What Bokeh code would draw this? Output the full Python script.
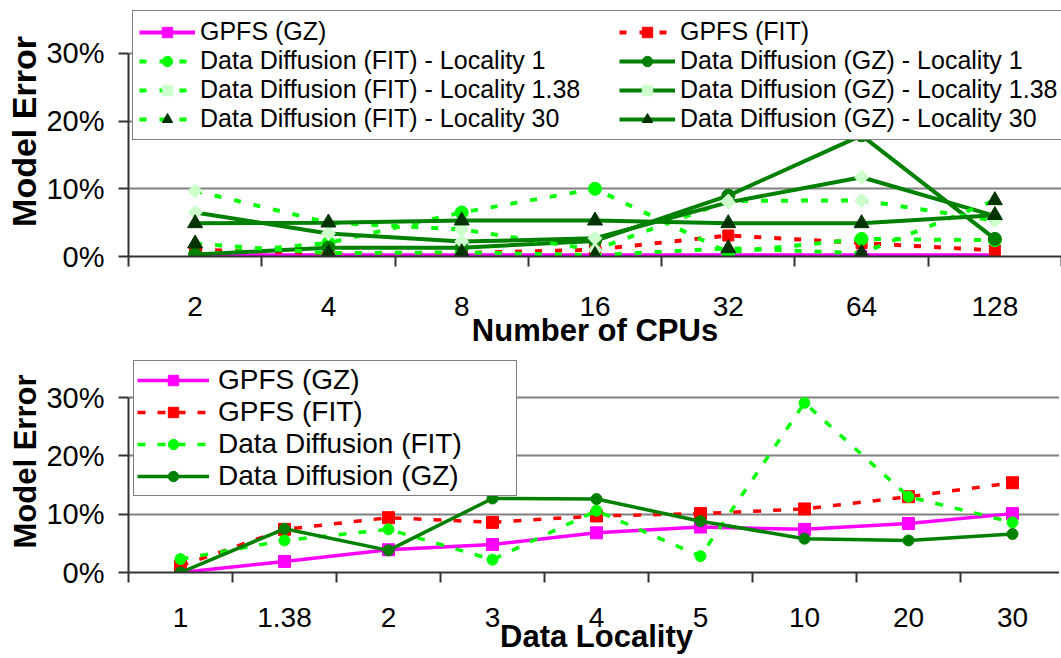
import math
from bokeh.plotting import figure
from bokeh.models import (FactorRange, Range1d, LinearAxis, FixedTicker,
                          PrintfTickFormatter, Legend, LegendItem,
                          CustomLabelingPolicy)
from bokeh.layouts import column
from bokeh.embed import file_html
from bokeh.resources import INLINE

# ---------------- data ----------------
cpus = ["2", "4", "8", "16", "32", "64", "128"]
gpfs_gz_cpu = [0.2, 0.2, 0.2, 0.2, 0.2, 0.2, 0.2]
gpfs_fit_cpu = [1.0, 0.5, 0.5, 1.0, 3.1, 2.0, 0.9]
dd_fit_l1 = [0.2, 2.0, 6.5, 10.0, 0.6, 2.6, 2.4]
dd_gz_l1 = [0.3, 1.3, 1.3, 2.3, 9.0, 17.9, 2.6]
dd_fit_l138 = [9.7, 5.0, 4.0, 1.0, 8.2, 8.3, 5.3]
dd_gz_l138 = [6.5, 3.4, 2.2, 2.7, 8.0, 11.7, 6.0]
dd_fit_l30 = [1.9, 0.5, 0.6, 0.2, 1.2, 0.5, 8.3]
dd_gz_l30 = [4.9, 5.0, 5.3, 5.3, 4.9, 4.9, 6.1]

localities = ["1", "1.38", "2", "3", "4", "5", "10", "20", "30"]
gpfs_gz_loc = [0.0, 1.9, 3.9, 4.8, 6.8, 7.8, 7.4, 8.4, 10.1]
gpfs_fit_loc = [1.1, 7.4, 9.4, 8.6, 9.7, 10.1, 10.9, 13.0, 15.4]
dd_fit_loc = [2.3, 5.5, 7.4, 2.2, 10.6, 2.8, 29.1, 13.0, 8.6]
dd_gz_loc = [0.0, 7.5, 3.8, 12.7, 12.6, 8.8, 5.8, 5.5, 6.6]

y_ticks = [0, 10, 20, 30]

FONT = "Liberation Sans"
MAGENTA = "#FF00FF"
RED = "#FF0000"
LIME = "#00FF00"
DKGREEN = "#008000"
DKTRI = "#003300"
LTDIAM = "#CCFFCC"
AXIS = "#333333"
GRID = "#808080"

NO_LABELS = CustomLabelingPolicy(code="""
    for (const i of Array.from(indices)) { indices.unset(i) }
    return indices
""")


def make_fig(cats, ymax, frame_w, frame_h, left, top, xlabel, ytitle_size,
             lab_standoff, title_standoff):
    p = figure(x_range=FactorRange(*cats, range_padding=0),
               y_range=Range1d(0, ymax),
               frame_width=frame_w, frame_height=frame_h,
               min_border_left=left, min_border_right=0,
               min_border_top=top, min_border_bottom=0,
               output_backend="svg", toolbar_location=None)
    p.outline_line_color = None
    p.background_fill_color = "white"
    p.border_fill_color = "white"
    p.xgrid.visible = False
    p.ygrid.ticker = FixedTicker(ticks=[10, 20, 30])
    p.ygrid.grid_line_color = GRID
    p.ygrid.grid_line_width = 2

    # y axis
    ya = p.yaxis[0]
    ya.ticker = FixedTicker(ticks=y_ticks)
    ya.formatter = PrintfTickFormatter(format="%d%%")
    ya.bounds = (0, 30)
    ya.axis_line_color = AXIS
    ya.axis_line_width = 2
    ya.major_tick_line_color = AXIS
    ya.major_tick_line_width = 2
    ya.major_tick_out = 10
    ya.major_tick_in = 0
    ya.minor_tick_line_color = None
    ya.major_label_text_font = FONT
    ya.major_label_text_font_size = "29px"
    ya.major_label_text_color = "black"
    ya.major_label_standoff = 14
    ya.axis_label = "Model Error"
    ya.axis_label_text_font = FONT
    ya.axis_label_text_font_style = "bold"
    ya.axis_label_text_font_size = ytitle_size
    ya.axis_label_text_color = "black"
    ya.axis_label_standoff = 0

    # category labels axis (default x axis)
    xa = p.xaxis[0]
    xa.axis_line_color = None
    xa.major_tick_line_color = None
    xa.minor_tick_line_color = None
    xa.major_label_text_font = FONT
    xa.major_label_text_font_size = "28px"
    xa.major_label_text_color = "black"
    xa.major_label_standoff = lab_standoff
    xa.axis_label = xlabel
    xa.axis_label_text_font = FONT
    xa.axis_label_text_font_style = "bold"
    xa.axis_label_text_font_size = "31px"
    xa.axis_label_text_color = "black"
    xa.axis_label_standoff = title_standoff

    # axis line with tick marks on the category boundaries
    ea = LinearAxis(ticker=FixedTicker(ticks=list(range(len(cats) + 1))))
    ea.axis_line_color = AXIS
    ea.axis_line_width = 2
    ea.major_tick_line_color = AXIS
    ea.major_tick_line_width = 2
    ea.major_tick_out = 10
    ea.major_tick_in = 0
    ea.minor_tick_line_color = None
    ea.major_label_policy = NO_LABELS
    ea.major_label_text_font_size = "0px"
    ea.major_label_standoff = 0
    p.below.insert(0, ea)
    return p


def series(p, cats, vals, color, dash, width, marker, mcolor, msize, angle=0.0):
    lr = p.line(x=cats, y=vals, line_color=color, line_width=width, line_dash=dash)
    sr = p.scatter(x=cats, y=vals, marker=marker, size=msize, angle=angle,
                   fill_color=mcolor, line_color=mcolor)
    return [lr, sr]


DASH = "7 13"
D45 = math.pi / 4

# ---------------- top chart ----------------
top = make_fig(cpus, 36.93, 933, 250, 128, 6, "Number of CPUs", "34px", 24, -6)
r_gz = series(top, cpus, gpfs_gz_cpu, MAGENTA, "solid", 4, "square", MAGENTA, 10)
r_fit = series(top, cpus, gpfs_fit_cpu, RED, DASH, 4, "square", RED, 11)
r_f1 = series(top, cpus, dd_fit_l1, LIME, DASH, 4, "circle", LIME, 13)
r_g1 = series(top, cpus, dd_gz_l1, DKGREEN, "solid", 4, "circle", DKGREEN, 13)
r_f138 = series(top, cpus, dd_fit_l138, LIME, DASH, 4, "square", LTDIAM, 10, D45)
r_g138 = series(top, cpus, dd_gz_l138, DKGREEN, "solid", 4, "square", LTDIAM, 10, D45)
r_f30 = series(top, cpus, dd_fit_l30, LIME, DASH, 4, "triangle", DKTRI, 15)
r_g30 = series(top, cpus, dd_gz_l30, DKGREEN, "solid", 4, "triangle", DKTRI, 15)

top_items = [
    LegendItem(label="GPFS (GZ)", renderers=r_gz),
    LegendItem(label="Data Diffusion (FIT) - Locality 1", renderers=r_f1),
    LegendItem(label="Data Diffusion (FIT) - Locality 1.38", renderers=r_f138),
    LegendItem(label="Data Diffusion (FIT) - Locality 30", renderers=r_f30),
    LegendItem(label="GPFS (FIT)", renderers=r_fit),
    LegendItem(label="Data Diffusion (GZ) - Locality 1", renderers=r_g1),
    LegendItem(label="Data Diffusion (GZ) - Locality 1.38", renderers=r_g138),
    LegendItem(label="Data Diffusion (GZ) - Locality 30", renderers=r_g30),
]
lt = Legend(items=top_items, location="top_left", ncols=2, margin=4,
            padding=6, spacing=0, glyph_width=56, glyph_height=26,
            label_standoff=5, label_width=419, label_height=26,
            label_text_font=FONT, label_text_font_size="25px",
            label_text_color="black",
            border_line_color="black", border_line_width=1.5,
            background_fill_color="white", background_fill_alpha=1.0)
top.add_layout(lt)

# ---------------- bottom chart ----------------
bot = make_fig(localities, 38.08, 936, 222, 123, 0, "Data Locality", "31px", 19, -11)
b_gz = series(bot, localities, gpfs_gz_loc, MAGENTA, "solid", 3.5, "square", MAGENTA, 12)
b_fit = series(bot, localities, gpfs_fit_loc, RED, "8 12", 3.5, "square", RED, 12)
b_f = series(bot, localities, dd_fit_loc, LIME, "8 12", 3.5, "circle", LIME, 11)
b_g = series(bot, localities, dd_gz_loc, DKGREEN, "solid", 3.5, "circle", DKGREEN, 11)

bot_items = [
    LegendItem(label="GPFS (GZ)", renderers=b_gz),
    LegendItem(label="GPFS (FIT)", renderers=b_fit),
    LegendItem(label="Data Diffusion (FIT)", renderers=b_f),
    LegendItem(label="Data Diffusion (GZ)", renderers=b_g),
]
lb = Legend(items=bot_items, location="top_left", margin=10,
            padding=3, spacing=0, glyph_width=72, glyph_height=26,
            label_standoff=9, label_width=295, label_height=26,
            label_text_font=FONT, label_text_font_size="28px",
            label_text_color="black",
            border_line_color="black", border_line_width=1.5,
            background_fill_color="white", background_fill_alpha=1.0)
bot.add_layout(lb)

layout = column(top, bot, spacing=0)
open("out.html", "w").write(file_html(layout, INLINE))
